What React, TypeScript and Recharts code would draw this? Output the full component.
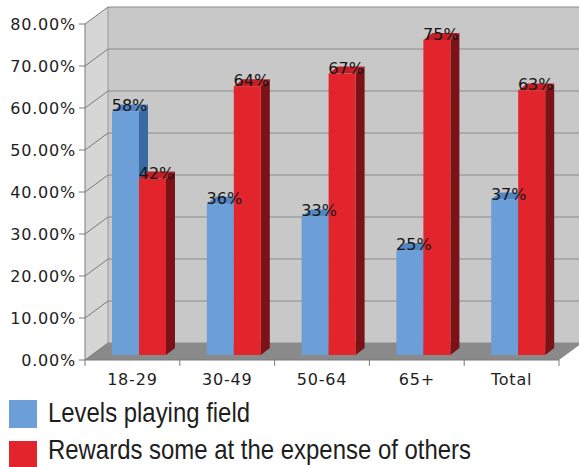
import { BarChart, Bar, XAxis, YAxis, CartesianGrid, ReferenceArea, Legend, LabelList } from 'recharts';

const categories = ['18-29', '30-49', '50-64', '65+', 'Total'];
const levelsPlayingField = [58, 36, 33, 25, 37];
const rewardsSomeAtExpense = [42, 64, 67, 75, 63];
const yTicks = [0, 10, 20, 30, 40, 50, 60, 70, 80];

const data = categories.map((group, i) => ({
  group,
  levels: levelsPlayingField[i],
  rewards: rewardsSomeAtExpense[i],
}));

// depth of the back wall, and of the bars themselves
const DX = 23;
const DY = 17;
const BAR_DX = 7;
const BAR_DY = 5;
const SIDE_X = 9;
const SIDE_Y = 7;

const tickFont = { fontFamily: 'DejaVu Sans, Verdana, sans-serif', fontSize: 16, letterSpacing: 0.8, fill: '#1e1e1e' };

function Walls(props: any) {
  const { x, y, width, height } = props;
  const b = y + height;
  return (
    <g>
      <polygon points={`${x},${y} ${x + DX},${y - DY} ${x + DX},${b - DY} ${x},${b}`} fill="#d6d6d6" />
      <rect x={x + DX} y={y - DY} width={width} height={height} fill="#c8c8c8" />
      <line x1={x + DX} y1={y - DY} x2={x + DX} y2={b - DY} stroke="#9a9a9a" />
      <polygon points={`${x},${b} ${x + DX},${b - DY} ${x + width + DX},${b - DY} ${x + width},${b}`} fill="#8a8a8a" />
    </g>
  );
}

const backGridLine = (p: any) => (
  <line key={p.key} x1={p.x1 + DX} y1={p.y1 - DY} x2={p.x2 + DX} y2={p.y2 - DY} stroke="#8c8c8c" strokeWidth={1} />
);

function make3DBar(front: string, side: string, top: string) {
  return (p: any) => {
    const { x, y, width, height } = p;
    if (!height) return <g />;
    const fx = x + BAR_DX;
    const fy = y - BAR_DY;
    return (
      <g>
        <polygon
          points={`${fx + width},${fy} ${fx + width + SIDE_X},${fy - SIDE_Y} ${fx + width + SIDE_X},${fy + height - SIDE_Y} ${fx + width},${fy + height}`}
          fill={side}
        />
        <polygon
          points={`${fx},${fy} ${fx + SIDE_X},${fy - SIDE_Y} ${fx + width + SIDE_X},${fy - SIDE_Y} ${fx + width},${fy}`}
          fill={top}
        />
        <rect x={fx} y={fy} width={width} height={height} fill={front} />
      </g>
    );
  };
}

const valueLabel = (p: any) => {
  const { x, y, width, value } = p;
  return (
    <text x={x + BAR_DX + width / 2 + 4} y={y - BAR_DY} textAnchor="middle" fontFamily="DejaVu Sans, Verdana, sans-serif" fontSize={16} fill="#151515">
      {value}%
    </text>
  );
};

function YTick({ x, y, payload }: any) {
  return (
    <g>
      <line x1={x - 6} y1={y} x2={x} y2={y} stroke="#7a7a7a" />
      <line x1={x} y1={y} x2={x + DX} y2={y - DY} stroke="#7a7a7a" />
      <text x={x - 9} y={y} dy={6} textAnchor="end" {...tickFont}>
        {payload.value.toFixed(2)}%
      </text>
    </g>
  );
}

function XTick({ x, y, payload, index }: any) {
  const half = payload.offset || 47.4;
  return (
    <g>
      <line x1={x - half} y1={y} x2={x - half} y2={y + 6} stroke="#7a7a7a" />
      {index === categories.length - 1 && <line x1={x + half} y1={y} x2={x + half} y2={y + 6} stroke="#7a7a7a" />}
      <text x={x} y={y} dy={25} textAnchor="middle" {...tickFont}>
        {payload.value}
      </text>
    </g>
  );
}

const legendWidths = [202, 423];

function LegendBox({ payload }: any) {
  return (
    <svg width={579} height={72} style={{ display: 'block' }}>
      {(payload || []).map((item: any, i: number) => (
        <g key={item.value}>
          <rect x={9} y={5 + i * 41} width={28} height={28} fill={item.color} />
          <text
            x={48}
            y={27 + i * 37}
            textLength={legendWidths[i]}
            lengthAdjust="spacingAndGlyphs"
            fontFamily="'Liberation Sans Narrow', 'Liberation Sans', Arial, sans-serif"
            fontSize={28}
            fill="#1e1e1e"
          >
            {item.value}
          </text>
        </g>
      ))}
    </svg>
  );
}

export default function App() {
  return (
    <div style={{ position: 'absolute', left: 0, top: 0, background: '#fff' }}>
      <BarChart width={579} height={467} data={data} margin={{ top: 24, right: 20, left: 0, bottom: 77 }} barGap={0}>
        <ReferenceArea y1={0} y2={80} ifOverflow="visible" shape={<Walls />} zIndex={-150} />
        <CartesianGrid vertical={false} horizontal={backGridLine} zIndex={-50} />
        <XAxis
          dataKey="group"
          height={30}
          axisLine={{ stroke: '#7a7a7a' }}
          tickLine={false}
          tickSize={0}
          tickMargin={0}
          tick={<XTick />}
          interval={0}
        />
        <YAxis
          width={85}
          domain={[0, 80]}
          ticks={yTicks}
          axisLine={{ stroke: '#7a7a7a' }}
          tickLine={false}
          tickSize={0}
          tickMargin={0}
          tick={<YTick />}
          interval={0}
        />
        <Legend
          layout="horizontal"
          verticalAlign="middle"
          wrapperStyle={{ position: 'absolute', left: 0, top: 395, width: 579 }}
          content={<LegendBox />}
        />
        <Bar dataKey="levels" name="Levels playing field" fill="#6c9fd8" barSize={27} isAnimationActive={false} shape={make3DBar('#6c9fd8', '#3a6aa2', '#5387c4')}>
          <LabelList dataKey="levels" content={valueLabel} />
        </Bar>
        <Bar dataKey="rewards" name="Rewards some at the expense of others" fill="#e2252d" barSize={27} isAnimationActive={false} shape={make3DBar('#e2252d', '#7a1217', '#c21f26')}>
          <LabelList dataKey="rewards" content={valueLabel} />
        </Bar>
      </BarChart>
    </div>
  );
}
